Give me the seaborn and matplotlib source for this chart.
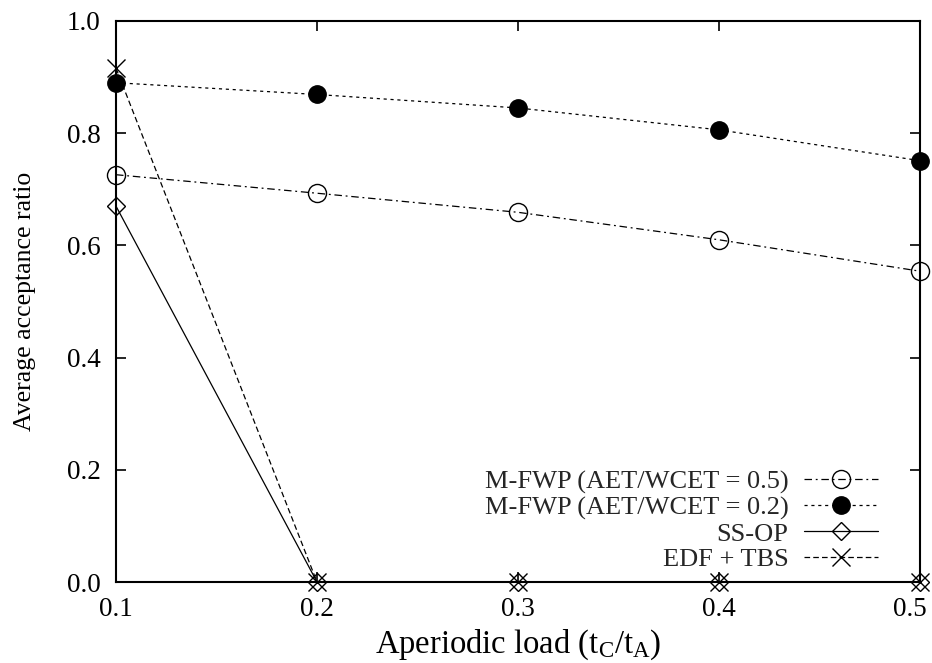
import matplotlib
matplotlib.use("Agg")
import matplotlib.pyplot as plt
import matplotlib.transforms as mtransforms
import seaborn as sns
import pandas as pd

x_load = [0.1, 0.2, 0.3, 0.4, 0.5]
mfwp_05 = [0.726, 0.693, 0.659, 0.610, 0.554]
mfwp_02 = [0.890, 0.869, 0.845, 0.806, 0.751]
ss_op = [0.670, 0.0, 0.0, 0.0, 0.0]
edf_tbs = [0.916, 0.0, 0.0, 0.0, 0.0]
labels = ["M-FWP (AET/WCET = 0.5)", "M-FWP (AET/WCET = 0.2)", "SS-OP", "EDF + TBS"]
xtick_labels = ["0.1", "0.2", "0.3", "0.4", "0.5"]
yticks = [0.0, 0.2, 0.4, 0.6, 0.8, 1.0]
ytick_labels = ["0.0", "0.2", "0.4", "0.6", "0.8", "1.0"]

sns.set_theme(style="ticks")
plt.rcParams['font.family'] = ['Liberation Serif', 'DejaVu Serif']
plt.rcParams['mathtext.fontset'] = 'custom'
plt.rcParams['mathtext.rm'] = 'Liberation Serif'
plt.rcParams['mathtext.it'] = 'Liberation Serif'

fig = plt.figure(figsize=(9.32, 6.63), dpi=100)
ax = fig.add_axes([116/932, 1 - 582/663, (920-116)/932, (582-21)/663])

series = [mfwp_05, mfwp_02, ss_op, edf_tbs]
styles = [
    dict(marker='o', markersize=13, markerfacecolor='none', linestyle=(0, (6, 3, 1.5, 3))),
    dict(marker='o', markersize=12.5, markerfacecolor='black', linestyle=(0, (2.5, 3))),
    dict(marker='D', markersize=9, markerfacecolor='none', linestyle='-'),
    dict(marker='x', markersize=13, markerfacecolor='none', linestyle=(0, (4.5, 2.5))),
]
for vals, lab, st in zip(series, labels, styles):
    df = pd.DataFrame({"x": x_load, "y": vals})
    sns.lineplot(data=df, x="x", y="y", ax=ax, label=lab, color='black',
                 linewidth=0.9, markeredgecolor='black', markeredgewidth=1.0,
                 clip_on=False, zorder=3, **st)

ax.set_xlim(0.1, 0.5)
ax.set_ylim(0.0, 1.0)
ax.set_xticks(x_load)
ax.set_xticklabels(xtick_labels)
ax.set_yticks(yticks)
ax.set_yticklabels(ytick_labels)
ax.tick_params(direction='in', top=True, right=True, length=7, width=1.2,
               labelsize=19.5, colors='black', pad=11)
for s in ax.spines.values():
    s.set_linewidth(1.5)
    s.set_color('black')
ax.set_xlabel(r"Aperiodic load (t$_{\mathrm{C}}$/t$_{\mathrm{A}}$)", fontsize=23.5, color='black', labelpad=4)
ax.set_ylabel("Average acceptance ratio", fontsize=18.5, color='black', labelpad=22.5)

# shift last x tick label left so it stays inside the figure
last = ax.get_xticklabels()[-1]
last.set_transform(last.get_transform() + mtransforms.ScaledTranslation(-0.10, 0, fig.dpi_scale_trans))

leg = ax.legend(loc='lower right', bbox_to_anchor=(0.958, 0.005), frameon=False,
                markerfirst=False, fontsize=19, handlelength=2.8, borderaxespad=0.0,
                labelspacing=0.08, handletextpad=0.6, borderpad=0.3)
for t in leg.get_texts():
    t.set_ha('right')
leg._legend_box.align = "right"

fig.savefig("out.png", dpi=100)
